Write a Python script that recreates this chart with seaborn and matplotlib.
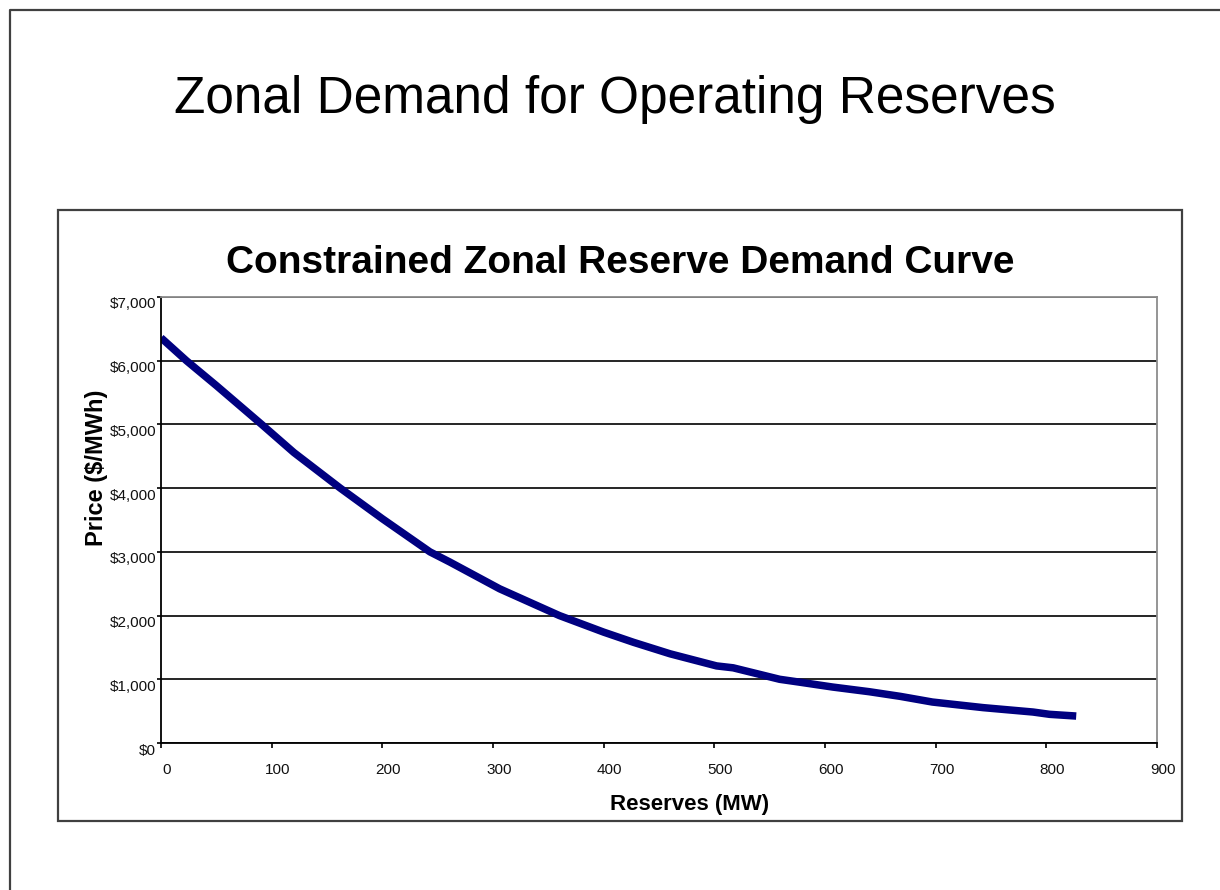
"""Constrained zonal reserve demand curve, slide-style figure."""

import matplotlib
matplotlib.use("Agg")
import matplotlib.pyplot as plt
from matplotlib.lines import Line2D
from matplotlib.patches import Rectangle
from matplotlib.ticker import FuncFormatter
from matplotlib.transforms import ScaledTranslation
import pandas as pd
import seaborn as sns

# Curve
reserves_mw = [0, 23, 50, 91, 120, 162, 200, 243, 261, 306, 360, 400, 427, 460,
               502, 517, 559, 577, 607, 640, 668, 697, 743, 788, 803, 827]
price = [6360, 6000, 5610, 5000, 4560, 4000, 3520, 3000, 2840, 2420, 2000, 1740, 1580, 1400,
         1210, 1180, 1000, 955, 878, 805, 732, 643, 555, 486, 450, 423]
x_ticks = [0, 100, 200, 300, 400, 500, 600, 700, 800, 900]
y_ticks = [0, 1000, 2000, 3000, 4000, 5000, 6000, 7000]

slide_title = "Zonal Demand for Operating Reserves"
chart_title = "Constrained Zonal Reserve Demand Curve"

sns.set_theme(style="white")
plt.rcParams["font.family"] = ["Liberation Sans", "DejaVu Sans"]
plt.rcParams["text.color"] = "black"
plt.rcParams["axes.labelcolor"] = "black"

W, H = 1220, 890
fig = plt.figure(figsize=(W / 100, H / 100), dpi=100)
# plot area in pixels: left 161, right 1157, top 297, bottom 743
ax = fig.add_axes([161 / W, 1 - 743 / H, (1157 - 161) / W, (743 - 297) / H])

df = pd.DataFrame({"Reserves (MW)": reserves_mw, "Price ($/MWh)": price})
sns.lineplot(data=df, x="Reserves (MW)", y="Price ($/MWh)", ax=ax,
             color="#000080", linewidth=5.4, solid_capstyle="butt")

ax.set_xlim(0, 900)
ax.set_ylim(0, 7000)
ax.set_xticks(x_ticks)
ax.set_yticks(y_ticks)
ax.yaxis.set_major_formatter(FuncFormatter(lambda v, _: f"${v:,.0f}"))
ax.yaxis.grid(True, color="black", linewidth=1.2)
ax.set_axisbelow(True)

for side in ["left", "bottom"]:
    ax.spines[side].set_color("black")
    ax.spines[side].set_linewidth(1.3)
for side in ["top", "right"]:
    ax.spines[side].set_color("#8c8c8c")
    ax.spines[side].set_linewidth(1.3)

ax.tick_params(axis="x", direction="out", length=3.5, width=1.2, color="black",
               labelsize=11, pad=11, labelcolor="#111111")
ax.tick_params(axis="y", direction="out", length=3, width=1.2, color="black",
               labelsize=11, pad=0.5, labelcolor="#111111")
ax.tick_params(bottom=True, left=True)

# tick labels sit a little off their ticks in the original
for lab in ax.get_xticklabels():
    lab.set_transform(lab.get_transform() + ScaledTranslation(0.06, 0, fig.dpi_scale_trans))
for lab in ax.get_yticklabels():
    lab.set_transform(lab.get_transform() + ScaledTranslation(0, -0.06, fig.dpi_scale_trans))

ax.set_xlabel("Reserves (MW)", fontsize=16, fontweight="bold")
ax.set_ylabel("Price ($/MWh)", fontsize=17, fontweight="bold")
ax.xaxis.set_label_coords((690 - 161) / 996, -(794 - 743) / 446)
ax.yaxis.set_label_coords(-(161 - 108) / 996, (743 - 468) / 446)

ax.set_title(chart_title, fontsize=28, fontweight="bold", x=(620 - 161) / 996, pad=17)

fig.text(615 / W, 1 - 113 / H, slide_title, fontsize=37, ha="center", va="baseline")

# chart frame and slide border
fig.add_artist(Rectangle((58 / W, 1 - 821 / H), (1182 - 58) / W, (821 - 210) / H,
                         transform=fig.transFigure, fill=False, edgecolor="#404040",
                         linewidth=1.6))
fig.add_artist(Line2D([10 / W, 10 / W, 1], [0, 1 - 10 / H, 1 - 10 / H],
                      transform=fig.transFigure, color="#404040", linewidth=1.6))

fig.savefig("out.png", dpi=100)
